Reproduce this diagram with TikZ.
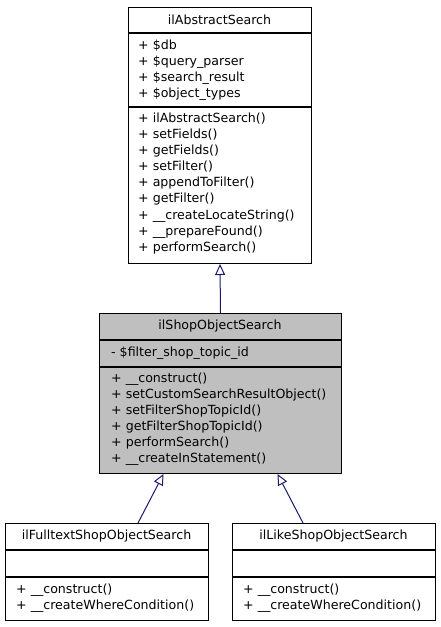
\documentclass[tikz,border=0pt]{standalone}
\usepackage{fontspec}
\setmainfont{DejaVu Sans}
\usetikzlibrary{arrows.meta,calc}
\definecolor{edgeblue}{HTML}{191970}
\definecolor{graybox}{HTML}{BFBFBF}
\tikzset{
  umlbox/.style={draw=black, line width=1pt, fill=white, anchor=north west, inner sep=0pt},
  sep/.style={draw=black, line width=1.2pt},
  txt/.style={anchor=west, inner sep=0pt, font=\fontsize{12.6}{14}\selectfont},
  ttl/.style={anchor=center, inner sep=0pt, font=\fontsize{12.6}{14}\selectfont},
  inherit/.style={draw=edgeblue, line width=1pt, -{Triangle[open, length=11pt, width=10pt, fill=white]}}
}
\begin{document}
\begin{tikzpicture}[x=1pt, y=-1pt]
\useasboundingbox (0,0) rectangle (440,627);
% ilAbstractSearch
\node[umlbox, minimum width=183pt, minimum height=256pt] (abs) at (128,7) {};
\draw[sep] (128,33) -- (311,33);
\draw[sep] (128,107) -- (311,107);
\node[ttl] (absT) at (219.5,20) {ilAbstractSearch};
\node[txt] (a1) at (138,46) {+ \$db};
\node[txt] (a2) at (138,62) {+ \$query\_parser};
\node[txt] (a3) at (138,78) {+ \$search\_result};
\node[txt] (a4) at (138,94) {+ \$object\_types};
\node[txt] (m1) at (138,119) {+ ilAbstractSearch()};
\node[txt] (m2) at (138,135) {+ setFields()};
\node[txt] (m3) at (138,151) {+ getFields()};
\node[txt] (m4) at (138,167) {+ setFilter()};
\node[txt] (m5) at (138,183) {+ appendToFilter()};
\node[txt] (m6) at (138,199) {+ getFilter()};
\node[txt] (m7) at (138,216) {+ \_\_createLocateString()};
\node[txt] (m8) at (138,232) {+ \_\_prepareFound()};
\node[txt] (m9) at (138,248) {+ performSearch()};
% ilShopObjectSearch
\node[umlbox, fill=graybox, minimum width=242pt, minimum height=160pt] (shop) at (99,313) {};
\draw[sep] (99,340) -- (341,340);
\draw[sep] (99,367) -- (341,367);
\node[ttl] (shopT) at (220,326.5) {ilShopObjectSearch};
\node[txt] (s1) at (111,353) {- \$filter\_shop\_topic\_id};
\node[txt] (n1) at (111,379) {+ \_\_construct()};
\node[txt] (n2) at (111,395) {+ setCustomSearchResultObject()};
\node[txt] (n3) at (111,411) {+ setFilterShopTopicId()};
\node[txt] (n4) at (111,427) {+ getFilterShopTopicId()};
\node[txt] (n5) at (111,443) {+ performSearch()};
\node[txt] (n6) at (111,459) {+ \_\_createInStatement()};
% ilFulltextShopObjectSearch
\node[umlbox, minimum width=203pt, minimum height=97pt] (full) at (5,523) {};
\draw[sep] (5,550) -- (208,550);
\draw[sep] (5,577) -- (208,577);
\node[ttl] (fullT) at (106.5,536.5) {ilFulltextShopObjectSearch};
\node[txt] (f1) at (16,590) {+ \_\_construct()};
\node[txt] (f2) at (16,606) {+ \_\_createWhereCondition()};
% ilLikeShopObjectSearch
\node[umlbox, minimum width=203pt, minimum height=97pt] (like) at (232,523) {};
\draw[sep] (232,550) -- (435,550);
\draw[sep] (232,577) -- (435,577);
\node[ttl] (likeT) at (333.5,536.5) {ilLikeShopObjectSearch};
\node[txt] (l1) at (243,590) {+ \_\_construct()};
\node[txt] (l2) at (243,606) {+ \_\_createWhereCondition()};
% inheritance
\draw[inherit] (shop.north) -- (abs.south);
\draw[inherit] ([xshift=31pt]full.north) -- ([xshift=-57pt]shop.south);
\draw[inherit] ([xshift=-31pt]like.north) -- ([xshift=57pt]shop.south);
\end{tikzpicture}
\end{document}
